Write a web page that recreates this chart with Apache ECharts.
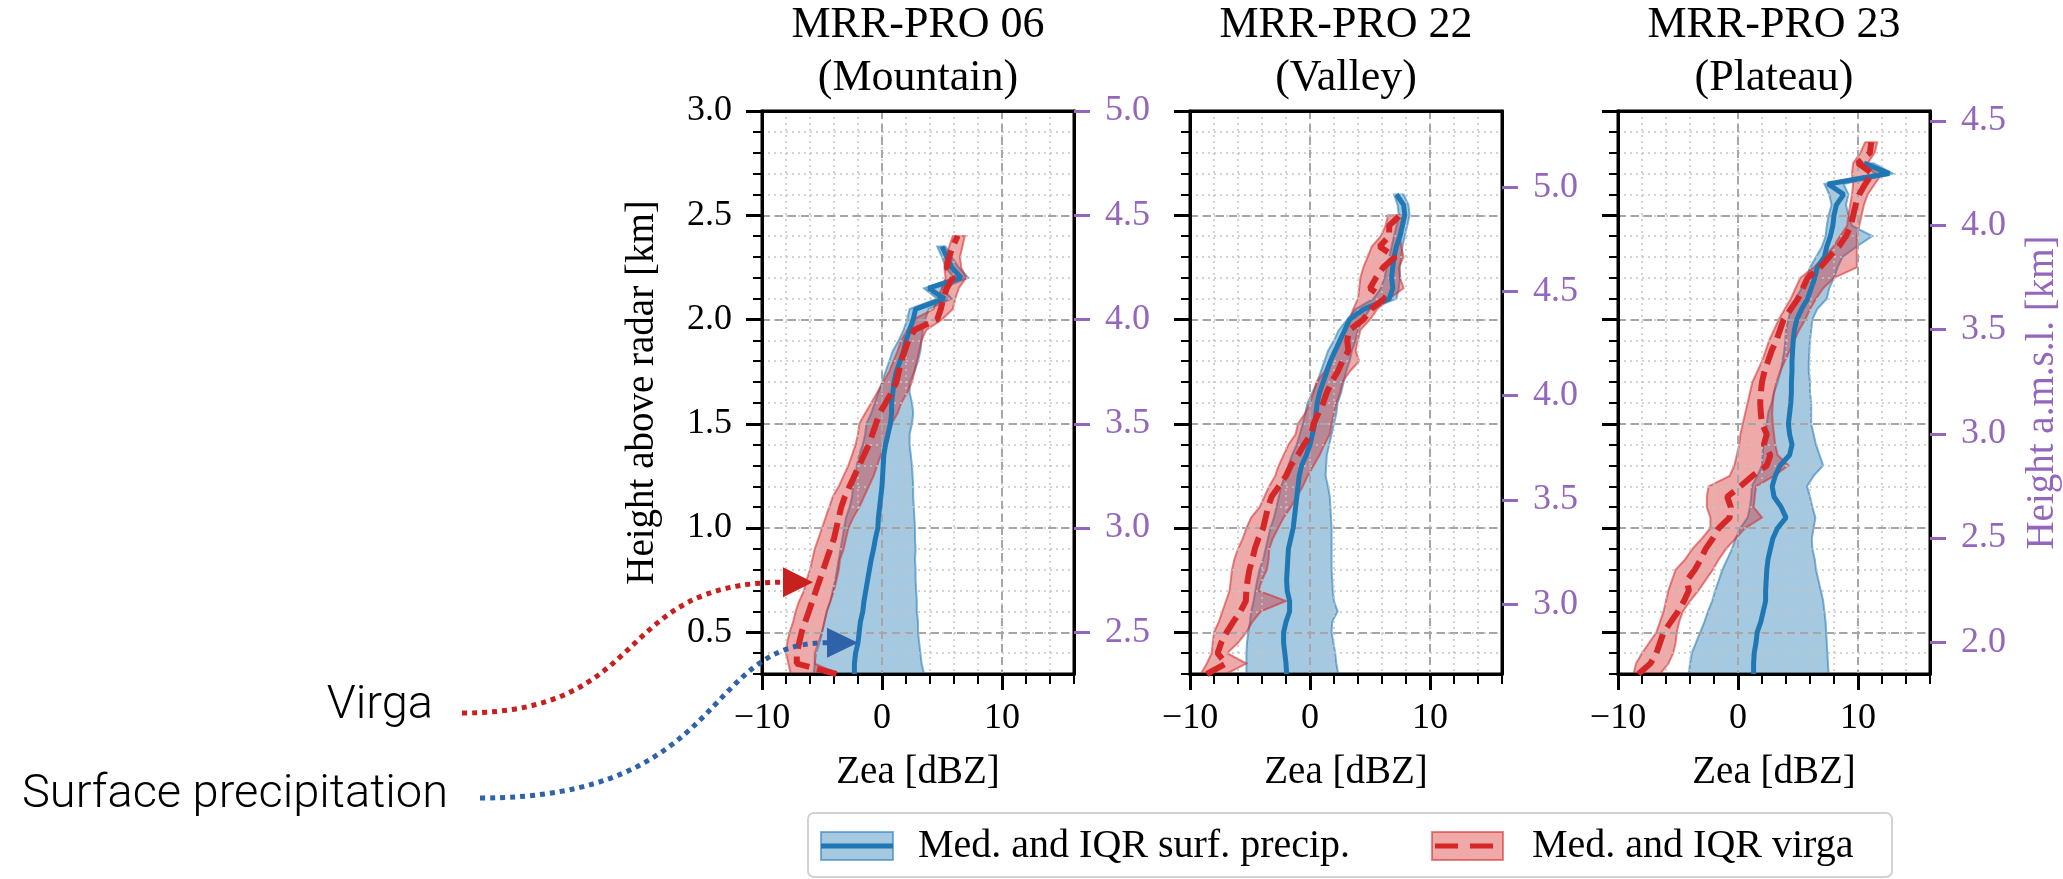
<!DOCTYPE html>
<html><head><meta charset="utf-8">
<script src="https://cdn.jsdelivr.net/npm/echarts@6/dist/echarts.min.js"></script>
<style>html,body{margin:0;padding:0;background:#fff}#c{width:2063px;height:879px}</style>
</head><body><div id="c"></div>
<script>
// ---------------- DATA ----------------
// Heights above radar [km]
const H1 = [0.30,0.35,0.40,0.45,0.50,0.55,0.60,0.65,0.70,0.75,
            0.80,0.85,0.90,0.95,1.00,1.05,1.10,1.15,1.20,1.25,
            1.30,1.35,1.40,1.45,1.50,1.55,1.60,1.65,1.70,1.75,
            1.80,1.85,1.90,1.95,2.00,2.05,2.10,2.15,2.20,2.25,
            2.30,2.35,2.40];
// MRR-PRO 06 (Mountain) – Zea [dBZ]
const surfMed1 = [-2.3,-2.3,-2.2,-2.0,-1.9,-1.8,-1.6,-1.5,-1.35,-1.2,
                  -1.05,-0.9,-0.7,-0.55,-0.35,-0.3,-0.2,-0.1,0.0,0.05,
                  0.1,0.15,0.3,0.5,0.7,0.8,0.8,0.9,1.0,1.2,
                  1.5,1.8,2.0,2.3,2.6,2.8,5.2,3.9,6.6,5.8,
                  5.4,5.0,null];
const surfQ1a = [-5.7,-5.6,-5.5,-5.2,-5.0,-4.8,-4.6,-4.3,-4.1,-3.9,
                 -3.75,-3.6,-3.45,-3.3,-3.15,-3.0,-2.7,-2.5,-2.4,-2.2,
                 -2.1,-1.9,-1.6,-1.4,-1.3,-0.9,-0.6,-0.3,0.0,0.3,
                 0.6,0.9,1.4,1.8,2.1,2.3,4.6,3.5,6.0,5.3,
                 5.0,4.6,null];
const surfQ3a = [3.5,3.3,3.2,3.1,3.0,3.0,2.9,2.9,2.85,2.8,
                 2.8,2.75,2.8,2.75,2.75,2.7,2.65,2.6,2.6,2.55,
                 2.5,2.4,2.3,2.3,2.5,2.6,2.5,2.3,2.3,2.7,
                 3.0,3.2,3.3,3.4,3.6,3.9,5.8,5.0,7.2,6.4,
                 5.8,5.3,null];
const virgaMed1 = [-3.8,-7.1,-7.1,-6.9,-6.7,-6.4,-6.1,-5.8,-5.5,-5.2,
                   -4.9,-4.6,-4.3,-4.0,-3.8,-3.6,-3.4,-3.1,-2.7,-2.3,
                   -1.9,-1.5,-1.1,-0.8,-0.5,-0.2,0.3,0.8,1.2,1.4,
                   1.6,1.9,2.2,2.7,4.6,4.9,5.1,5.4,5.9,5.4,
                   5.6,5.9,6.3];
const virgaQ1a = [-7.6,-7.8,-8.0,-7.9,-7.7,-7.4,-7.2,-6.9,-6.5,-6.3,
                  -6.0,-5.8,-5.6,-5.3,-5.0,-4.7,-4.4,-4.1,-3.6,-3.2,
                  -2.8,-2.5,-2.2,-2.0,-1.9,-1.4,-0.9,-0.4,0.1,0.6,
                  0.95,1.3,1.6,2.1,2.6,4.3,4.6,5.0,5.3,5.2,
                  5.3,5.6,5.9];
const virgaQ3a = [-3.6,-5.6,-5.6,-5.3,-5.0,-4.8,-4.6,-4.3,-4.0,-3.8,
                  -3.6,-3.5,-3.2,-3.0,-2.8,-2.4,-1.9,-1.5,-1.1,-0.7,
                  -0.4,-0.1,0.3,0.5,0.8,1.3,1.6,2.1,2.5,2.7,
                  2.9,3.1,3.3,3.7,5.0,5.9,6.1,6.4,7.0,6.6,
                  6.5,6.7,6.9];

const H2 = [0.30,0.35,0.40,0.45,0.50,0.55,0.60,0.65,0.70,0.75,
            0.80,0.85,0.90,0.95,1.00,1.05,1.10,1.15,1.20,1.25,
            1.30,1.35,1.40,1.45,1.50,1.55,1.60,1.65,1.70,1.75,
            1.80,1.85,1.90,1.95,2.00,2.05,2.10,2.15,2.20,2.25,
            2.30,2.35,2.40,2.45,2.50,2.55,2.60];
// MRR-PRO 22 (Valley)
const surfMed2 = [-1.95,-2.0,-2.1,-2.2,-2.2,-2.0,-1.7,-1.7,-1.9,-1.95,
                  -1.9,-1.85,-1.8,-1.6,-1.4,-1.3,-1.2,-1.1,-1.0,-0.9,
                  -0.7,-0.3,0.0,0.2,0.4,0.5,0.6,0.8,1.1,1.4,
                  1.7,2.1,2.5,2.9,3.3,4.5,6.6,6.9,6.8,6.9,
                  7.0,7.2,7.5,7.7,7.9,7.8,7.2];
const surfQ1b = [-5.3,-5.3,-5.3,-5.25,-5.15,-5.0,-4.9,-4.7,-4.55,-4.4,
                 -4.2,-3.9,-3.7,-3.5,-3.3,-3.0,-2.8,-2.6,-2.4,-2.1,
                 -1.8,-1.5,-1.1,-0.85,-0.6,-0.4,-0.2,0.2,0.6,0.9,
                 1.2,1.5,2.0,2.4,3.1,3.8,5.3,5.9,6.2,6.4,
                 6.6,6.8,7.0,7.2,7.4,7.3,7.0];
const surfQ3b = [2.35,2.2,2.1,1.95,1.8,1.85,2.3,2.0,1.9,1.85,
                 1.8,1.8,1.8,1.8,1.8,1.75,1.7,1.65,1.5,1.3,
                 1.35,1.4,1.6,1.8,2.0,2.2,2.3,2.6,2.8,3.0,
                 3.3,3.5,3.8,4.0,4.4,5.0,7.2,7.4,7.5,7.5,
                 7.6,7.7,7.9,8.1,8.3,8.2,7.8];
const virgaMed2 = [-8.6,-7.0,-7.7,-7.4,-6.95,-6.4,-5.8,-5.35,-5.3,-5.2,
                   -5.05,-4.8,-4.6,-4.3,-3.9,-3.7,-3.5,-3.2,-2.6,-2.0,
                   -1.6,-1.0,-0.5,0.1,0.3,0.7,1.1,1.4,1.8,2.3,
                   2.7,3.2,3.1,3.3,4.45,5.1,6.2,5.0,5.5,6.1,
                   7.1,5.8,6.6,6.6,7.5,null,null];
const virgaQ1b = [-9.1,-8.6,-8.2,-8.1,-8.0,-7.6,-7.3,-7.0,-6.7,-6.6,
                  -6.5,-6.3,-6.0,-5.6,-5.3,-4.9,-4.2,-3.8,-3.4,-2.9,
                  -2.6,-2.2,-1.8,-1.2,-1.0,-0.4,0.0,0.3,0.55,1.2,
                  1.6,1.95,2.4,2.8,3.3,3.6,4.0,4.1,4.2,4.45,
                  4.8,5.15,5.9,6.3,6.5,null,null];
const virgaQ3b = [-7.0,-5.3,-6.9,-6.0,-5.3,-4.8,-4.1,-2.0,-4.3,-4.0,
                  -3.6,-3.45,-3.4,-3.1,-2.65,-2.2,-1.6,-1.1,-0.6,-0.2,
                  0.3,0.8,1.2,1.65,1.8,2.0,2.2,2.5,2.7,3.3,
                  4.1,3.8,4.0,4.2,5.0,5.6,6.6,7.8,7.5,7.4,
                  7.8,7.6,7.5,7.6,7.7,null,null];

const H3 = [0.30,0.35,0.40,0.45,0.50,0.55,0.60,0.65,0.70,0.75,
            0.80,0.85,0.90,0.95,1.00,1.05,1.10,1.15,1.20,1.25,
            1.30,1.35,1.40,1.45,1.50,1.55,1.60,1.65,1.70,1.75,
            1.80,1.85,1.90,1.95,2.00,2.05,2.10,2.15,2.20,2.25,
            2.30,2.35,2.40,2.45,2.50,2.55,2.60,2.65,2.70,2.75,
            2.80,2.85,2.90];
// MRR-PRO 23 (Plateau)
const surfMed3 = [1.3,1.3,1.35,1.5,1.6,1.9,2.1,2.3,2.3,2.35,
                  2.4,2.5,2.7,2.9,3.3,4.0,3.6,3.0,2.85,3.1,
                  3.5,4.3,4.5,4.3,4.2,4.3,4.4,4.45,4.45,4.5,
                  4.5,4.55,4.6,4.7,4.9,5.3,5.8,6.1,6.4,6.6,
                  7.2,7.4,7.7,7.9,8.0,8.2,8.8,7.5,12.6,10.5,
                  null,null,null];
const surfQ1c = [-4.1,-4.0,-3.85,-3.5,-3.15,-2.8,-2.5,-2.15,-1.9,-1.6,
                 -1.3,-0.9,-0.5,-0.2,0.2,0.8,1.0,1.1,1.15,1.6,
                 2.0,2.05,2.1,2.3,2.4,2.5,2.8,3.0,3.3,3.55,
                 3.7,3.85,3.95,4.0,4.2,4.4,4.8,5.3,5.7,6.0,
                 6.5,7.0,7.3,7.4,7.55,7.8,7.6,7.2,11.5,10.0,
                 null,null,null];
const surfQ3c = [7.55,7.5,7.45,7.4,7.35,7.3,7.2,7.1,6.9,6.7,
                 6.5,6.4,6.2,6.15,6.3,6.45,6.2,6.0,5.75,6.3,
                 7.1,6.8,6.5,6.3,6.1,6.1,6.1,6.0,6.0,5.9,
                 5.9,5.95,6.0,6.1,6.2,6.6,7.4,7.6,8.0,8.3,
                 8.7,9.9,11.2,9.5,9.2,9.0,9.2,8.8,12.9,11.3,
                 null,null,null];
const virgaMed3 = [-8.3,-7.3,-6.8,-6.5,-6.2,-5.6,-5.0,-4.5,-4.1,-4.25,
                   -3.6,-3.1,-2.7,-2.1,-1.6,-0.7,-0.6,-0.9,0.2,1.2,
                   2.4,2.7,2.15,2.4,2.0,1.9,1.85,1.9,2.0,2.2,
                   2.5,2.8,3.2,3.5,3.8,4.4,5.0,5.4,5.8,6.85,
                   7.6,8.4,9.0,9.4,9.6,9.8,10.1,10.6,11.2,10.0,
                   11.0,11.1,null];
const virgaQ1c = [-8.7,-8.5,-8.0,-7.4,-6.8,-6.5,-6.2,-6.0,-5.8,-5.5,
                  -5.2,-4.4,-3.8,-3.0,-2.3,-2.3,-2.6,-2.6,-2.45,-0.7,
                  -0.3,-0.1,0.1,0.2,0.4,0.6,0.8,1.0,1.2,1.6,
                  2.0,2.3,2.6,3.0,3.4,3.9,4.4,4.8,5.2,6.3,
                  7.2,7.95,8.5,9.1,9.2,9.35,9.5,9.6,9.5,9.6,
                  10.2,10.6,null];
const virgaQ3c = [-6.5,-5.8,-5.4,-5.2,-5.1,-4.9,-4.6,-4.0,-3.3,-2.7,
                  -2.1,-1.6,-1.0,-0.2,0.6,2.0,1.3,1.4,1.5,3.0,
                  4.2,3.3,3.1,3.0,2.9,2.85,2.9,3.0,3.2,3.5,
                  3.9,4.3,4.7,5.1,5.6,6.0,6.5,7.1,8.0,9.9,
                  9.9,9.9,9.9,10.1,10.3,10.5,10.8,11.4,12.0,10.8,
                  11.4,11.6,null];

// axes / tick labels
const titles = ['MRR-PRO 06\n(Mountain)', 'MRR-PRO 22\n(Valley)', 'MRR-PRO 23\n(Plateau)'];
const xMin = -10, xMax = 16;
const xMajorTicks = [-10, 0, 10];
const yMin = 0.3, yMax = 3.0;
const yMajorTicks = [0.5, 1.0, 1.5, 2.0, 2.5, 3.0];
const amslOffsets = [2.0, 2.365, 1.548];          // radar altitude [km]
const amslTicks1 = [2.5, 3.0, 3.5, 4.0, 4.5, 5.0];
const amslTicks2 = [3.0, 3.5, 4.0, 4.5, 5.0];
const amslTicks3 = [2.0, 2.5, 3.0, 3.5, 4.0, 4.5];
const virgaArrowAt = [-5.75, 0.74];
const surfArrowAt = [-2.0, 0.45];
const legendLabels = ['Med. and IQR surf. precip.', 'Med. and IQR virga'];

// ---------------- CHART ----------------
const SERIF = '"Liberation Serif","Times New Roman",serif';
const SANS = 'Roboto,"Noto Sans",sans-serif';
const BLUE = '#1f77b4', RED = '#d62728', PURPLE = '#9467bd';
const BLUE_FILL = 'rgba(31,119,180,0.4)', BLUE_EDGE = 'rgba(31,119,180,0.55)';
const RED_FILL = 'rgba(214,39,40,0.4)', RED_EDGE = 'rgba(214,39,40,0.55)';
const gridLefts = [762, 1190, 1618], GRID_TOP = 111, GRID_W = 312, GRID_H = 563;

const panels = [
  {H: H1, sm: surfMed1, sl: surfQ1a, su: surfQ3a, vm: virgaMed1, vl: virgaQ1a, vu: virgaQ3a, rt: amslTicks1},
  {H: H2, sm: surfMed2, sl: surfQ1b, su: surfQ3b, vm: virgaMed2, vl: virgaQ1b, vu: virgaQ3b, rt: amslTicks2},
  {H: H3, sm: surfMed3, sl: surfQ1c, su: surfQ3c, vm: virgaMed3, vl: virgaQ1c, vu: virgaQ3c, rt: amslTicks3}
];

const fmtX = v => v < 0 ? '\u2212' + Math.abs(v) : String(v);

function band(H, lo, hi, fill, stroke, xi, yi, name) {
  const rows = [];
  for (let i = 0; i < H.length; i++) if (lo[i] != null && hi[i] != null) rows.push([lo[i], H[i], hi[i]]);
  return {
    type: 'custom', name, xAxisIndex: xi, yAxisIndex: yi, clip: true, silent: true, z: 1,
    data: rows, encode: {x: [0, 2], y: 1},
    renderItem(params, api) {
      if (params.dataIndex !== 0) return null;
      const pts = [];
      for (const r of rows) pts.push(api.coord([r[0], r[1]]));
      for (let i = rows.length - 1; i >= 0; i--) pts.push(api.coord([rows[i][2], rows[i][1]]));
      return {type: 'polygon', shape: {points: pts}, style: {fill, stroke, lineWidth: 2}};
    }
  };
}
function median(H, v, xi, yi, style, name) {
  const d = [];
  for (let i = 0; i < H.length; i++) if (v[i] != null) d.push([v[i], H[i]]);
  return {type: 'line', name, xAxisIndex: xi, yAxisIndex: yi, data: d, symbol: 'none', showSymbol: false,
          clip: true, silent: true, z: 3, lineStyle: style};
}

const option = {animation: false, backgroundColor: '#fff', title: [], grid: [], xAxis: [], yAxis: [], series: [], graphic: []};

panels.forEach((p, i) => {
  const cx = gridLefts[i] + GRID_W / 2;
  option.grid.push({left: gridLefts[i], top: GRID_TOP, width: GRID_W, height: GRID_H, show: true,
                    borderColor: '#000', borderWidth: 3, backgroundColor: 'rgba(0,0,0,0)'});
  option.title.push({text: titles[i], left: cx, top: -1, textAlign: 'center', padding: 0,
                     textStyle: {fontFamily: SERIF, fontSize: 44, fontWeight: 'normal', color: '#000', lineHeight: 53}});
  // x minor
  option.xAxis.push({type: 'value', gridIndex: i, position: 'bottom', min: xMin, max: xMax, interval: 2, z: 2,
    axisLine: {show: true, onZero: false, lineStyle: {color: '#000', width: 3}},
    axisTick: {show: true, length: 10, lineStyle: {color: '#000', width: 2}},
    axisLabel: {show: false},
    splitLine: {show: true, lineStyle: {color: '#c4c4c4', width: 1.5, type: [2, 4]}},
    name: 'Zea [dBZ]', nameLocation: 'middle', nameGap: 79,
    nameTextStyle: {fontFamily: SERIF, fontSize: 39, color: '#000'}});
  // x major
  option.xAxis.push({type: 'value', gridIndex: i, position: 'bottom', min: xMin, max: xMax, interval: 10, z: 2,
    axisLine: {show: false, onZero: false},
    axisTick: {show: true, length: 16, lineStyle: {color: '#000', width: 3}, customValues: xMajorTicks},
    axisLabel: {show: true, customValues: xMajorTicks, margin: 27, formatter: fmtX,
                fontFamily: SERIF, fontSize: 36, color: '#000'},
    splitLine: {show: true, lineStyle: {color: '#a6a6a6', width: 2, type: [8, 5]}}});
  // top spine
  option.xAxis.push({type: 'value', gridIndex: i, position: 'top', min: xMin, max: xMax, z: 2,
    axisLine: {show: true, onZero: false, lineStyle: {color: '#000', width: 3}},
    axisTick: {show: false}, axisLabel: {show: false}, splitLine: {show: false}});
  // y minor
  const yMinorAx = {type: 'value', gridIndex: i, position: 'left', min: yMin, max: yMax, interval: 0.1, z: 2,
    axisLine: {show: true, onZero: false, lineStyle: {color: '#000', width: 3}},
    axisTick: {show: true, length: 9, lineStyle: {color: '#000', width: 2}},
    axisLabel: {show: false},
    splitLine: {show: true, lineStyle: {color: '#c4c4c4', width: 1.5, type: [2, 4]}}};
  if (i === 0) Object.assign(yMinorAx, {name: 'Height above radar [km]', nameLocation: 'middle', nameGap: 100,
    nameTextStyle: {fontFamily: SERIF, fontSize: 39, color: '#000'}});
  option.yAxis.push(yMinorAx);
  // y major
  option.yAxis.push({type: 'value', gridIndex: i, position: 'left', min: yMin, max: yMax, z: 2,
    axisLine: {show: false, onZero: false},
    axisTick: {show: true, length: 16, lineStyle: {color: '#000', width: 3}, customValues: yMajorTicks},
    axisLabel: {show: i === 0, customValues: yMajorTicks, margin: 30, formatter: v => v.toFixed(1),
                fontFamily: SERIF, fontSize: 36, color: '#000'},
    splitLine: {show: true, lineStyle: {color: '#a6a6a6', width: 2, type: [8, 5]}}});
  // y right (a.m.s.l.)
  const off = amslOffsets[i];
  const rAx = {type: 'value', gridIndex: i, position: 'right', min: yMin + off, max: yMax + off, z: 2,
    axisLine: {show: true, onZero: false, lineStyle: {color: '#000', width: 3}},
    axisTick: {show: true, length: 16, lineStyle: {color: PURPLE, width: 3}, customValues: p.rt},
    axisLabel: {show: true, customValues: p.rt, margin: 31, formatter: v => v.toFixed(1),
                fontFamily: SERIF, fontSize: 36, color: PURPLE},
    splitLine: {show: false}};
  if (i === 2) Object.assign(rAx, {name: 'Height a.m.s.l. [km]', nameLocation: 'middle', nameGap: 93,
    nameTextStyle: {fontFamily: SERIF, fontSize: 39, color: PURPLE}});
  option.yAxis.push(rAx);

  const xi = 3 * i, yi = 3 * i;
  option.series.push(band(p.H, p.sl, p.su, BLUE_FILL, BLUE_EDGE, xi, yi, 'IQR surf. precip.'));
  option.series.push(band(p.H, p.vl, p.vu, RED_FILL, RED_EDGE, xi, yi, 'IQR virga'));
  option.series.push(median(p.H, p.sm, xi, yi, {color: BLUE, width: 5}, 'Med. surf. precip.'));
  option.series.push(median(p.H, p.vm, xi, yi, {color: RED, width: 6, type: [20, 8], cap: 'butt'}, 'Med. virga'));
});

const chart = echarts.init(document.getElementById('c'), null, {renderer: 'canvas'});
chart.setOption(option);

// annotations + legend
const rt = chart.convertToPixel({xAxisIndex: 0, yAxisIndex: 0}, virgaArrowAt);
const bt = chart.convertToPixel({xAxisIndex: 0, yAxisIndex: 0}, surfArrowAt);
const RED_A = '#c8201e', BLUE_A = '#2f62a8';
const txt = (t, x, y, font, fill, align) => ({type: 'text', x, y, z: 50,
  style: {text: t, font, fill, align, verticalAlign: 'middle', textAlign: align, textVerticalAlign: 'middle'}});
const g = [
  txt('Virga', 433, 706, '300 47px ' + SANS, '#000', 'right'),
  txt('Surface precipitation', 448, 795, '300 47px ' + SANS, '#000', 'right'),
  {type: 'bezierCurve', z: 50, shape: {x1: 462, y1: 713, cpx1: 655, cpy1: 713, cpx2: 610, cpy2: rt[1], x2: rt[0] - 29, y2: rt[1]},
   style: {stroke: RED_A, lineWidth: 5, lineDash: [5, 5], fill: null}},
  {type: 'polygon', z: 51, shape: {points: [[rt[0], rt[1]], [rt[0] - 30, rt[1] - 15], [rt[0] - 30, rt[1] + 15]]}, style: {fill: RED_A}},
  {type: 'bezierCurve', z: 50, shape: {x1: 480, y1: 798, cpx1: 730, cpy1: 798, cpx2: 700, cpy2: bt[1], x2: bt[0] - 31, y2: bt[1]},
   style: {stroke: BLUE_A, lineWidth: 5, lineDash: [5, 5], fill: null}},
  {type: 'polygon', z: 51, shape: {points: [[bt[0], bt[1]], [bt[0] - 31, bt[1] - 15], [bt[0] - 31, bt[1] + 15]]}, style: {fill: BLUE_A}},
  // legend
  {type: 'rect', z: 40, shape: {x: 808, y: 813, width: 1084, height: 64, r: 6},
   style: {fill: 'rgba(255,255,255,0.85)', stroke: '#d2d2d2', lineWidth: 2}},
  {type: 'rect', z: 41, shape: {x: 821, y: 832, width: 72, height: 28}, style: {fill: BLUE_FILL, stroke: BLUE_EDGE, lineWidth: 2}},
  {type: 'line', z: 42, shape: {x1: 821, y1: 846, x2: 893, y2: 846}, style: {stroke: BLUE, lineWidth: 5}},
  txt(legendLabels[0], 918, 846, '40px ' + SERIF, '#000', 'left'),
  {type: 'rect', z: 41, shape: {x: 1432, y: 832, width: 71, height: 28}, style: {fill: RED_FILL, stroke: RED_EDGE, lineWidth: 2}},
  {type: 'line', z: 42, shape: {x1: 1435, y1: 846, x2: 1498, y2: 846}, style: {stroke: RED, lineWidth: 5, lineDash: [23, 12]}},
  txt(legendLabels[1], 1532, 846, '40px ' + SERIF, '#000', 'left')
];
chart.setOption({graphic: g});
</script>
</body></html>
